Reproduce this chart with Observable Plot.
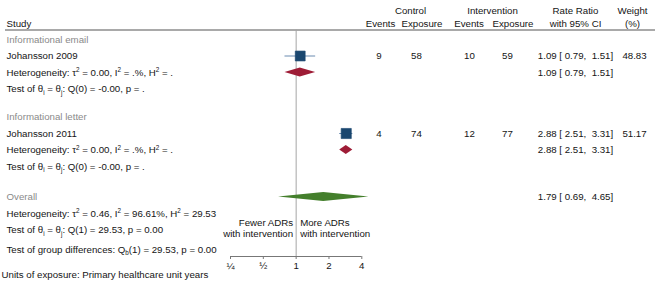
<!DOCTYPE html>
<html><head><meta charset="utf-8">
<script src="https://cdn.jsdelivr.net/npm/d3@7"></script>
<script src="https://cdn.jsdelivr.net/npm/@observablehq/plot@0.6"></script>
<style>html,body{margin:0;padding:0;background:#fff;} svg text{white-space:pre;}</style>
</head><body><div id="chart"></div>
<script>
// ---------------- data ----------------
const groups = ["Informational email", "Informational letter"];
const studies = ["Johansson 2009", "Johansson 2011"];
const studyGroup = [0, 1];
const ctrlEvents = [9, 4];
const ctrlExposure = [58, 74];
const intEvents = [10, 12];
const intExposure = [59, 77];
const studyRR = [1.09, 2.88];
const studyLo = [0.79, 2.51];
const studyHi = [1.51, 3.31];
const weights = [48.83, 51.17];
const groupRR = [1.09, 2.88];
const groupLo = [0.79, 2.51];
const groupHi = [1.51, 3.31];
const groupHet = ["Heterogeneity: τ^{2} = 0.00, I^{2} = .%, H^{2} = .", "Heterogeneity: τ^{2} = 0.00, I^{2} = .%, H^{2} = ."];
const groupTest = ["Test of θ_{i} = θ_{j}: Q(0) = -0.00, p = .", "Test of θ_{i} = θ_{j}: Q(0) = -0.00, p = ."];
const overallLabel = "Overall";
const overallRR = 1.79, overallLo = 0.69, overallHi = 4.65;
const overallHet = "Heterogeneity: τ^{2} = 0.46, I^{2} = 96.61%, H^{2} = 29.53";
const overallTest = "Test of θ_{i} = θ_{j}: Q(1) = 29.53, p = 0.00";
const groupDiffTest = "Test of group differences: Q_{b}(1) = 29.53, p = 0.00";
const note = "Units of exposure: Primary healthcare unit years";
const xTicks = [0.25, 0.5, 1, 2, 4];
const xTickLabels = ["¼", "½", "1", "2", "4"];
const favorLeft = "Fewer ADRs\nwith intervention";
const favorRight = "More ADRs\nwith intervention";
const headerTop = ["Control", "Intervention", "Rate Ratio", "Weight"];
const headerBottom = ["Study", "Events", "Exposure", "Events", "Exposure", "with 95% CI", "(%)"];

// ---------------- layout ----------------
const W = 655, H = 289;
const FS = 9.7;
const TXT = "#141414", GREY = "#8a8a8a";
const NAVY = "#1a476f", CI_C = "#6a8bb0", MAROON = "#9e1c36", GREEN = "#447f2c";
const HEAD1_Y = 10, HEAD2_Y = 23, RULE_Y = 29.5, AXIS_Y = 256;
const topHeaderX = [410, 492, 575, 632];
const botHeaderX = [6, 380, 421.5, 468.5, 512.5, 575, 632];
const COL = {cEv: 378.5, cEx: 416, iEv: 469, iEx: 507, ci: 575, w: 634};
const ROW0 = 39, STEP = 16.5, GAP_G = 11.5, GAP_O = 14, GAP_D = 3;
const DH = 4.5;
const FAVOR_Y = 227.5, NOTE_Y = 274;

const pad = (v, n) => v.toFixed(2).padStart(n, " ");
const ciText = (r, l, h) => `${r.toFixed(2)} [${pad(l, 5)},${pad(h, 6)}]`;

// build rows
const leftText = [];   // {y, text, color}
const colText = [];    // {y, x, text}
const studyRows = [];  // {y, rr, lo, hi, w}
const diamonds = [];   // {id, x, y1, y2, color}
const addDiamond = (id, lo, mid, hi, yy, color) => {
  diamonds.push({id, x: lo, y1: yy, y2: yy, color});
  diamonds.push({id, x: mid, y1: yy - DH, y2: yy + DH, color});
  diamonds.push({id, x: hi, y1: yy, y2: yy, color});
};
let y = ROW0;
groups.forEach((g, gi) => {
  if (gi > 0) y += GAP_G;
  leftText.push({y, text: g, color: GREY}); y += STEP;
  studies.forEach((s, si) => {
    if (studyGroup[si] !== gi) return;
    leftText.push({y, text: s, color: TXT});
    colText.push({y, x: COL.cEv, text: String(ctrlEvents[si])});
    colText.push({y, x: COL.cEx, text: String(ctrlExposure[si])});
    colText.push({y, x: COL.iEv, text: String(intEvents[si])});
    colText.push({y, x: COL.iEx, text: String(intExposure[si])});
    colText.push({y, x: COL.ci, text: ciText(studyRR[si], studyLo[si], studyHi[si])});
    colText.push({y, x: COL.w, text: weights[si].toFixed(2)});
    studyRows.push({y, rr: studyRR[si], lo: studyLo[si], hi: studyHi[si], w: weights[si]});
    y += STEP;
  });
  leftText.push({y, text: groupHet[gi], color: TXT});
  colText.push({y, x: COL.ci, text: ciText(groupRR[gi], groupLo[gi], groupHi[gi])});
  addDiamond("g" + gi, groupLo[gi], groupRR[gi], groupHi[gi], y, MAROON);
  y += STEP;
  leftText.push({y, text: groupTest[gi], color: TXT}); y += STEP;
});
const overallY = y + GAP_O;
leftText.push({y: overallY, text: overallLabel, color: GREY});
colText.push({y: overallY, x: COL.ci, text: ciText(overallRR, overallLo, overallHi)});
addDiamond("o", overallLo, overallRR, overallHi, overallY, GREEN);
leftText.push({y: overallY + STEP, text: overallHet, color: TXT});
leftText.push({y: overallY + 2 * STEP, text: overallTest, color: TXT});
leftText.push({y: overallY + 3 * STEP + GAP_D, text: groupDiffTest, color: TXT});

const headers = [
  ...headerTop.map((t, i) => ({x: topHeaderX[i], y: HEAD1_Y, text: t, anchor: "middle"})),
  ...headerBottom.map((t, i) => ({x: botHeaderX[i], y: HEAD2_Y, text: t, anchor: i === 0 ? "start" : "middle"}))
];

const chart = Plot.plot({
  width: W, height: H,
  marginLeft: 0, marginRight: 0, marginTop: 0, marginBottom: H - AXIS_Y,
  style: {fontFamily: "'Liberation Sans', Arial, Helvetica, sans-serif", fontSize: FS + "px", color: TXT, background: "#fff"},
  x: {type: "log", base: 2, domain: [0.25, 4], range: [230, 361.3], axis: null},
  y: {domain: [0, H], range: [0, H], axis: null},
  r: {type: "sqrt", domain: [0, 100], range: [0, 8]},
  marks: [
    Plot.ruleY([RULE_Y], {stroke: "#8c8c8c", strokeWidth: 1.5, insetLeft: 5}),
    Plot.ruleX([1], {y1: RULE_Y, y2: AXIS_Y, stroke: "#a6a6a6", strokeWidth: 1}),
    Plot.ruleY([AXIS_Y], {x1: xTicks[0], x2: xTicks[xTicks.length - 1], stroke: "#777", strokeWidth: 1}),
    Plot.axisX({ticks: xTicks, tickFormat: (d) => xTickLabels[xTicks.indexOf(d)], tickSize: 3, tickPadding: 2.5, stroke: "#777", fill: TXT, fontSize: FS, anchor: "bottom"}),
    Plot.ruleY(studyRows, {y: "y", x1: "lo", x2: "hi", stroke: CI_C, strokeWidth: 1}),
    Plot.dot(studyRows, {x: "rr", y: "y", r: "w", symbol: "square", fill: NAVY, stroke: NAVY, strokeWidth: 0.6}),
    Plot.areaY(diamonds, {x: "x", y1: "y1", y2: "y2", z: "id", fill: "color", curve: "linear"}),
    ...headers.map(d =>
      Plot.text([d], {y: "y", text: "text", frameAnchor: "left", dx: d.x, textAnchor: d.anchor, fill: TXT})),
    Plot.text(leftText, {y: "y", text: "text", frameAnchor: "left", dx: 6, textAnchor: "start", fill: "color"}),
    ...Object.values(COL).map(cx =>
      Plot.text(colText.filter(d => d.x === cx), {y: "y", text: "text", frameAnchor: "left", dx: cx, textAnchor: "middle", fill: TXT})),
    Plot.text([favorLeft], {x: 1, y: () => FAVOR_Y, text: (d) => d, textAnchor: "end", dx: -3, lineHeight: 1.1, fill: TXT}),
    Plot.text([favorRight], {x: 1, y: () => FAVOR_Y, text: (d) => d, textAnchor: "start", dx: 4, lineHeight: 1.1, fill: TXT}),
    Plot.text([note], {y: () => NOTE_Y, text: (d) => d, frameAnchor: "left", dx: 1, textAnchor: "start", fill: TXT})
  ]
});

// superscripts / subscripts
const NS = "http://www.w3.org/2000/svg";
d3.select(chart).selectAll("text").each(function () {
  if (this.querySelector("tspan")) return;
  const s = this.textContent;
  if (!/[\^_]\{/.test(s)) return;
  this.textContent = "";
  const re = /([\^_])\{([^}]*)\}/g;
  let last = 0, m, shift = 0;
  const add = (t, dy, small) => {
    const ts = document.createElementNS(NS, "tspan");
    if (dy) ts.setAttribute("dy", dy);
    if (small) ts.setAttribute("font-size", "65%");
    ts.textContent = t;
    this.appendChild(ts);
  };
  while ((m = re.exec(s))) {
    if (m.index > last) { add(s.slice(last, m.index), -shift); shift = 0; }
    const d = m[1] === "^" ? -3.6 : 2.6;
    add(m[2], d - shift, true); shift = d;
    last = re.lastIndex;
  }
  if (last < s.length) add(s.slice(last), -shift);
});
document.getElementById("chart").appendChild(chart);
</script>
</body></html>
